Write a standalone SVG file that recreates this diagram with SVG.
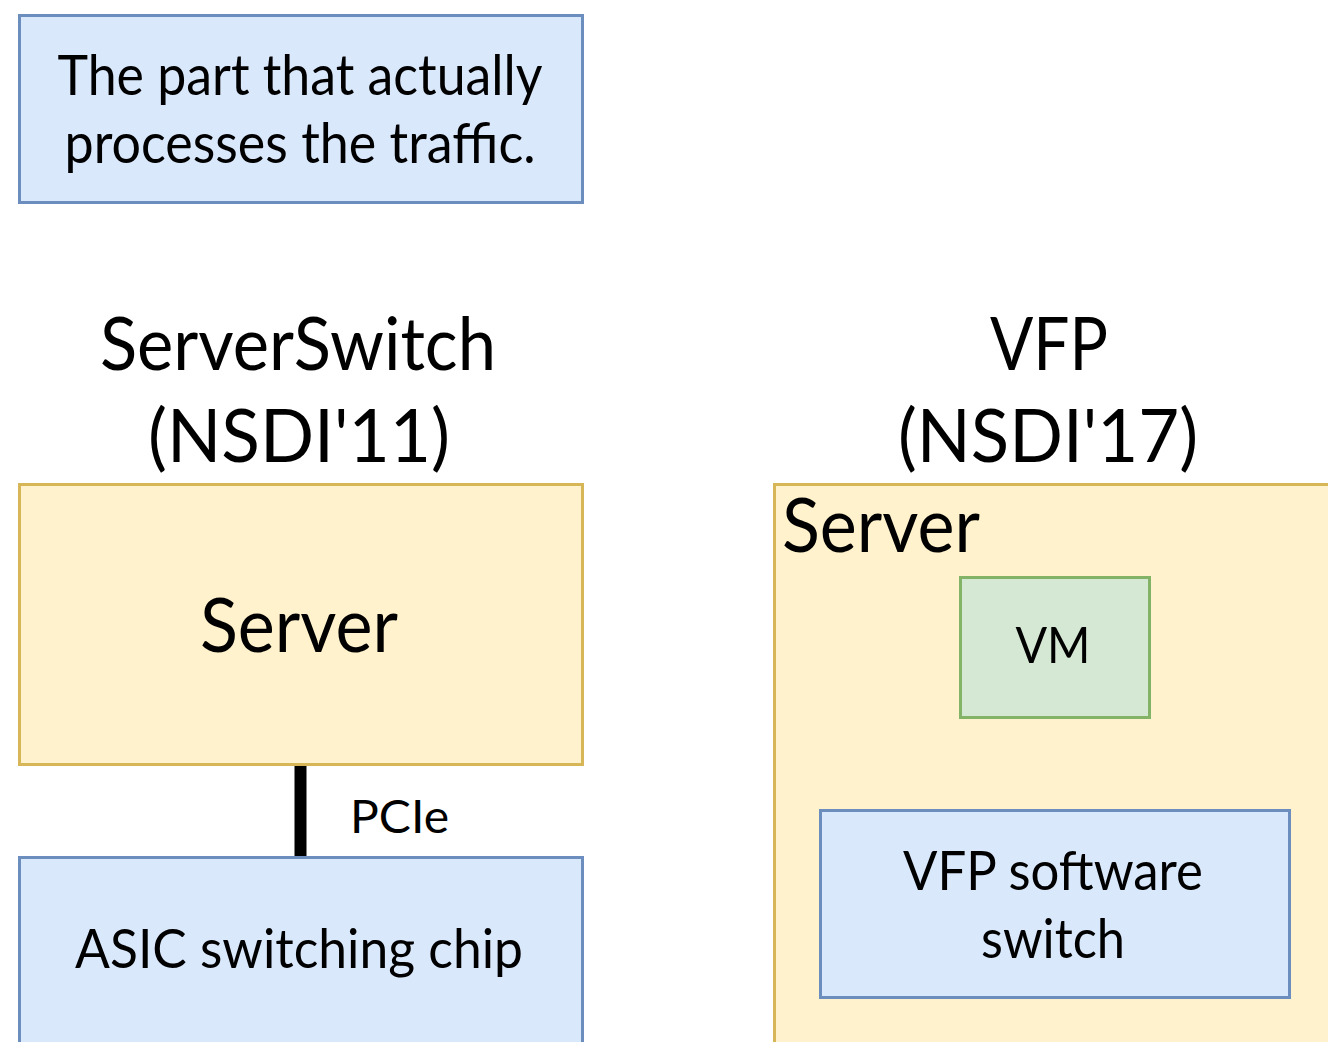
<svg xmlns="http://www.w3.org/2000/svg" width="1328" height="1042" viewBox="0 0 1328 1042">
  <style>
    text { font-family: "Lato", "Open Sans", "Liberation Sans", sans-serif; fill: #000; text-anchor: middle; }
    .blue { fill: #dae8fc; stroke: #6c8ebf; stroke-width: 3; }
    .yellow { fill: #fff2cc; stroke: #d6b656; stroke-width: 3; }
    .green { fill: #d5e8d4; stroke: #82b366; stroke-width: 3; }
  </style>
  <rect width="1328" height="1042" fill="#ffffff"/>

  <!-- legend note -->
  <g id="note">
    <rect class="blue" x="19.5" y="15.5" width="563" height="187"/>
    <text x="300" y="95" font-size="56" textLength="485" lengthAdjust="spacingAndGlyphs">The part that actually</text>
    <text x="300" y="163" font-size="56" textLength="471" lengthAdjust="spacingAndGlyphs">processes the traffic.</text>
  </g>

  <!-- column titles -->
  <g id="title-serverswitch">
    <text x="298" y="370" font-size="74" textLength="396" lengthAdjust="spacingAndGlyphs">ServerSwitch</text>
    <text x="299" y="462" font-size="74" textLength="302" lengthAdjust="spacingAndGlyphs">(NSDI'11)</text>
  </g>
  <g id="title-vfp">
    <text x="1049" y="370" font-size="74" textLength="118" lengthAdjust="spacingAndGlyphs">VFP</text>
    <text x="1048" y="462" font-size="74" textLength="300" lengthAdjust="spacingAndGlyphs">(NSDI'17)</text>
  </g>

  <!-- ServerSwitch side -->
  <g id="server-left">
    <rect class="yellow" x="19.5" y="484.5" width="563" height="280"/>
    <text x="299" y="652" font-size="76" textLength="198" lengthAdjust="spacingAndGlyphs">Server</text>
  </g>
  <g id="asic">
    <rect class="blue" x="19.5" y="857.5" width="563" height="200"/>
    <text x="299" y="968" font-size="54" textLength="448" lengthAdjust="spacingAndGlyphs">ASIC switching chip</text>
  </g>

  <!-- VFP side -->
  <g id="server-right">
    <rect class="yellow" x="774.5" y="484.5" width="580" height="580"/>
    <text x="782" y="552" font-size="76" text-anchor="start" style="text-anchor:start" textLength="198" lengthAdjust="spacingAndGlyphs">Server</text>
  </g>
  <g id="vm">
    <rect class="green" x="960.5" y="577.5" width="189" height="140"/>
    <text x="1053" y="663" font-size="50" textLength="75" lengthAdjust="spacingAndGlyphs">VM</text>
  </g>
  <g id="vfp-switch">
    <rect class="blue" x="820.5" y="810.5" width="469" height="187"/>
    <text x="1053" y="890" font-size="54" textLength="300" lengthAdjust="spacingAndGlyphs">VFP software</text>
    <text x="1053" y="958" font-size="54" textLength="144" lengthAdjust="spacingAndGlyphs">switch</text>
  </g>

  <!-- connectors -->
  <g id="connectors">
    <line x1="300.5" y1="766" x2="300.5" y2="856" stroke="#000" stroke-width="12"/>
    <text x="350" y="833" font-size="46" text-anchor="start" style="text-anchor:start" textLength="99" lengthAdjust="spacingAndGlyphs">PCIe</text>
  </g>
</svg>
